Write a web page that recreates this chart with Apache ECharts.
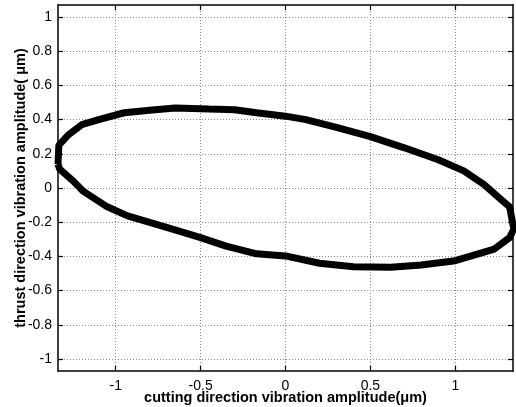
<!doctype html>
<meta charset="utf-8">
<style>
  html, body { margin: 0; padding: 0; width: 100%; height: 100%; background: #fff; }
  #chart { width: 516px; height: 407px; }
</style>
<script src="https://cdn.jsdelivr.net/npm/echarts@6/dist/echarts.min.js"></script>

<div id="chart"></div>

<script>
  // loop: top branch left->right, then bottom branch back
  const cutX = [-1.34, -1.335, -1.28, -1.2, -1.1, -0.95, -0.8, -0.65, -0.45, -0.3, -0.17, 0, 0.12, 0.3, 0.5, 0.7, 0.9, 1.05, 1.17, 1.25, 1.32, 1.345,
                1.32, 1.23, 1.0, 0.8, 0.62, 0.4, 0.2, 0.0, -0.17, -0.35, -0.5, -0.7, -0.93, -1.05, -1.19, -1.25, -1.33, -1.34];
  const thrustY = [0.14, 0.25, 0.31, 0.37, 0.40, 0.44, 0.455, 0.468, 0.462, 0.458, 0.44, 0.42, 0.40, 0.355, 0.30, 0.235, 0.165, 0.10, 0.02, -0.05, -0.11, -0.24,
                   -0.29, -0.357, -0.425, -0.45, -0.464, -0.46, -0.44, -0.397, -0.385, -0.34, -0.29, -0.23, -0.163, -0.11, -0.02, 0.04, 0.11, 0.14];
  const xTicks = [-1, -0.5, 0, 0.5, 1];
  const yTicks = [-1, -0.8, -0.6, -0.4, -0.2, 0, 0.2, 0.4, 0.6, 0.8, 1];

  const FONT = 'Liberation Sans';
  let chart = echarts.init(document.getElementById('chart'));

  function axis(pos, ticks, min, max, labels, name) {
    return {
      type: 'value',
      position: pos,
      min: min,
      max: max,
      name: name,
      nameLocation: 'middle',
      nameGap: pos === 'bottom' ? 19 : 30,
      nameMoveOverlap: false,
      nameTextStyle: { fontFamily: FONT, fontWeight: 'bold', fontSize: 14.5, color: '#000' },
      axisLine: { show: true, onZero: false, lineStyle: { color: '#000', width: 1.5 } },
      axisTick: { show: true, inside: true, length: 5, customValues: ticks, lineStyle: { color: '#000', width: 1.2 } },
      axisLabel: {
        show: labels, customValues: ticks, margin: pos === 'bottom' ? 8 : 6,
        fontFamily: FONT, fontSize: 14, color: '#000',
        formatter: v => String(+v.toFixed(2))
      },
      splitLine: { show: labels, lineStyle: { color: '#888', type: [1, 2], width: 1 } }
    };
  }

  chart.setOption({
    animation: false,
    grid: { left: 58, right: 3, top: 5, bottom: 36, outerBoundsMode: 'none' },
    xAxis: [
      axis('bottom', xTicks, -1.34, 1.34, true, 'cutting direction vibration amplitude(\u03bcm)'),
      axis('top', xTicks, -1.34, 1.34, false, '')
    ],
    yAxis: [
      axis('left', yTicks, -1.07, 1.07, true, 'thrust direction vibration amplitude( \u03bcm)'),
      axis('right', yTicks, -1.07, 1.07, false, '')
    ],
    series: [{
      type: 'line',
      data: cutX.map((x, i) => [x, thrustY[i]]),
      showSymbol: false,
      smooth: false,
      lineStyle: { color: '#000', width: 7 }
    }]
  });
</script>
